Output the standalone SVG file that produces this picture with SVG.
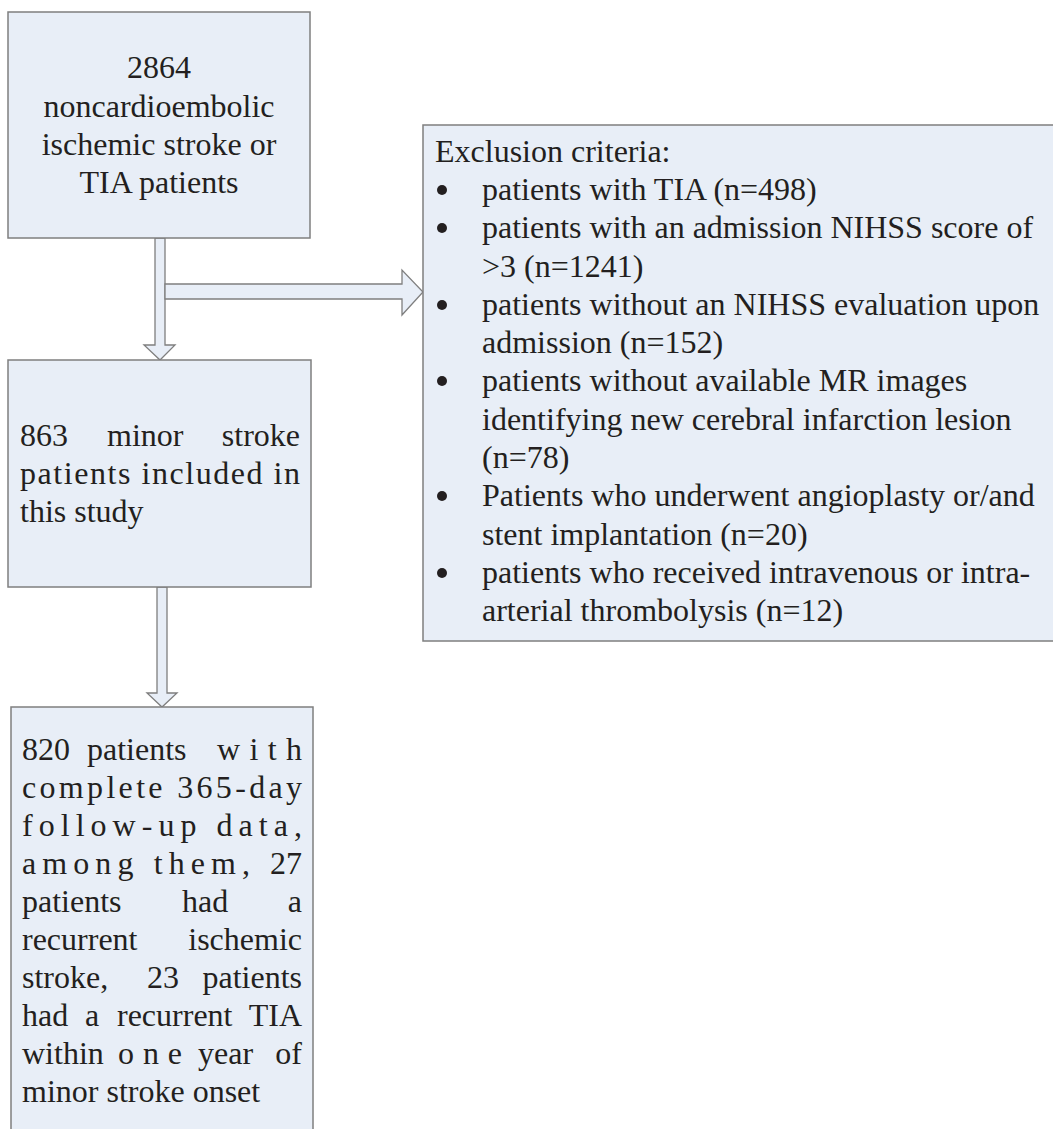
<svg xmlns="http://www.w3.org/2000/svg" width="1053" height="1129" viewBox="0 0 1053 1129">
<style>
.box{fill:#e8eef7;stroke:#7f7f7f;stroke-width:1.5}
.arr{fill:#e8eef7;stroke:#7f7f7f;stroke-width:1.3;stroke-linejoin:miter}
.dot{fill:#231f20}
text{font-family:"Liberation Serif","Times New Roman",serif;font-size:32px;fill:#231f20}
.c{text-anchor:middle}
.e{text-anchor:end}
</style>
<rect width="1053" height="1129" fill="#ffffff"/>
<g id="connectors">
<polygon class="arr" points="155,238 165,238 165,345 175,345 160,360 144,345 155,345"/>
<polygon class="arr" points="165,284 402,284 402,270 423,292 402,315 402,299 165,299"/>
<polygon class="arr" points="157,587 167,587 167,693 177,693 162,707 147,693 157,693"/>
</g>
<g id="node-start">
<rect class="box" x="8" y="12" width="302" height="226"/>
<text class="c" x="159" y="78">2864</text>
<text class="c" x="159" y="117">noncardioembolic</text>
<text class="c" x="159" y="155">ischemic stroke or</text>
<text class="c" x="159" y="193">TIA patients</text>
</g>
<g id="node-exclusion">
<rect class="box" x="423" y="125" width="640" height="516"/>
<text x="435" y="162">Exclusion criteria:</text>
<circle class="dot" cx="442" cy="190" r="5"/>
<text x="482" y="200">patients with TIA (n=498)</text>
<circle class="dot" cx="442" cy="228" r="5"/>
<text x="482" y="238">patients with an admission NIHSS score of</text>
<text x="482" y="277">&gt;3 (n=1241)</text>
<circle class="dot" cx="442" cy="305" r="5"/>
<text x="482" y="315">patients without an NIHSS evaluation upon</text>
<text x="482" y="353">admission (n=152)</text>
<circle class="dot" cx="442" cy="381" r="5"/>
<text x="482" y="391">patients without available MR images</text>
<text x="482" y="430">identifying new cerebral infarction lesion</text>
<text x="482" y="468">(n=78)</text>
<circle class="dot" cx="442" cy="496" r="5"/>
<text x="482" y="506">Patients who underwent angioplasty or/and</text>
<text x="482" y="545">stent implantation (n=20)</text>
<circle class="dot" cx="442" cy="573" r="5"/>
<text x="482" y="583">patients who received intravenous or intra-</text>
<text x="482" y="621">arterial thrombolysis (n=12)</text>
</g>
<g id="node-included">
<rect class="box" x="8" y="360" width="303" height="227"/>
<text x="20" y="446">863</text>
<text x="107" y="446">minor</text>
<text class="e" x="300" y="446">stroke</text>
<text x="20" y="484" textLength="280" lengthAdjust="spacing">patients included in</text>
<text x="20" y="522">this study</text>
</g>
<g id="node-followup">
<rect class="box" x="11" y="707" width="302" height="430"/>
<text x="22" y="760">820</text>
<text x="87" y="760">patients</text>
<text x="217" y="760" textLength="85" lengthAdjust="spacing">with</text>
<text x="22" y="798" textLength="280" lengthAdjust="spacing">complete 365-day</text>
<text x="22" y="836" textLength="280" lengthAdjust="spacing">follow-up data,</text>
<text x="22" y="874" textLength="228" lengthAdjust="spacing">among them,</text>
<text class="e" x="302" y="874">27</text>
<text x="22" y="912">patients</text>
<text x="182" y="912">had</text>
<text class="e" x="302" y="912">a</text>
<text x="22" y="950">recurrent</text>
<text class="e" x="302" y="950">ischemic</text>
<text x="22" y="988">stroke,</text>
<text x="147" y="988">23</text>
<text class="e" x="302" y="988">patients</text>
<text x="22" y="1026">had</text>
<text x="85" y="1026">a</text>
<text x="117" y="1026">recurrent</text>
<text class="e" x="302" y="1026">TIA</text>
<text x="22" y="1064">within</text>
<text x="118" y="1064" textLength="64" lengthAdjust="spacing">one</text>
<text x="198" y="1064">year</text>
<text class="e" x="302" y="1064">of</text>
<text x="22" y="1102">minor stroke onset</text>
</g>
</svg>
